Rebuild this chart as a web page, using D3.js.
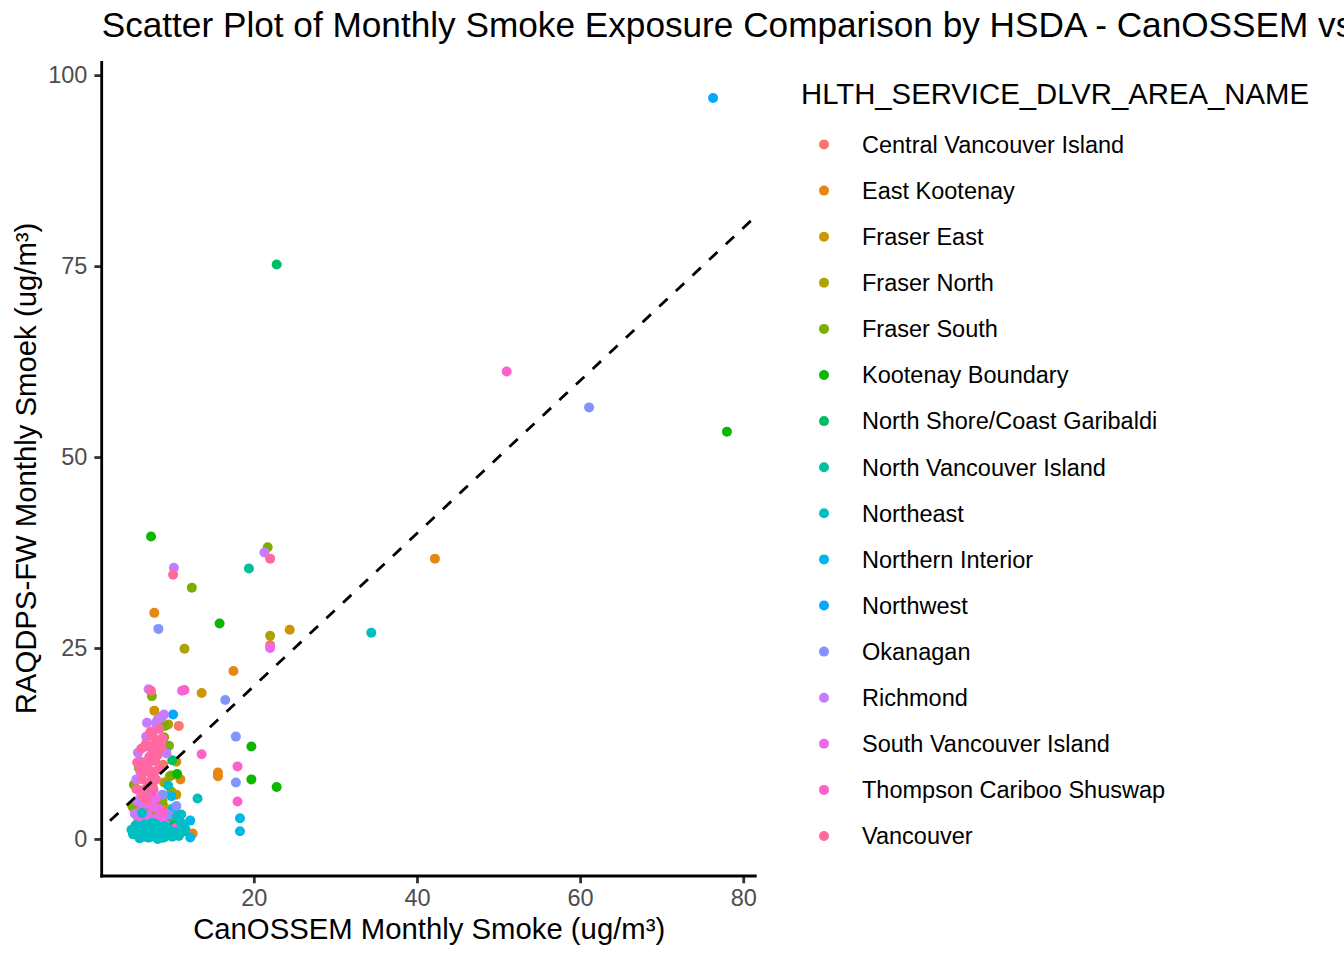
<!DOCTYPE html>
<html>
<head>
<meta charset="utf-8">
<script src="https://cdn.jsdelivr.net/npm/d3@7"></script>
<style>
  body { margin: 0; background: #fff; }
  svg { display: block; font-family: "Liberation Sans", Arial, Helvetica, sans-serif; }
</style>
</head>
<body>
<svg id="chart" width="1344" height="960"></svg>
<script>
// HSDA names in legend order, with ggplot's default hue colours
const hsdaNames = [
  'Central Vancouver Island', 'East Kootenay', 'Fraser East', 'Fraser North',
  'Fraser South', 'Kootenay Boundary', 'North Shore/Coast Garibaldi',
  'North Vancouver Island', 'Northeast', 'Northern Interior', 'Northwest',
  'Okanagan', 'Richmond', 'South Vancouver Island', 'Thompson Cariboo Shuswap',
  'Vancouver'
];
const hsdaColors = [
  '#F8766D', '#E68613', '#CD9600', '#ABA300', '#7CAE00', '#0CB702', '#00BE67',
  '#00C19A', '#00BFC4', '#00B8E7', '#00A9FF', '#8494FF', '#C77CFF', '#ED68ED',
  '#FF61CC', '#FF68A1'
];

// [CanOSSEM, RAQDPS-FW] monthly smoke (ug/m3)
const centralVancouverIsland = [[22.0, 25.4], [10.8, 14.8], [10.2, 2.6], [5.6, 0.9], [6.6, 1.6], [7.3, 0.5], [8.1, 1.2], [9.4, 2.1], [6.1, 3.4], [7.6, 6.9], [8.9, 9.7], [11.0, 0.8], [9.9, 0.4], [7.0, 4.3], [8.6, 0.2]];
const eastKootenay = [[42.2, 36.7], [7.8, 29.6], [17.5, 22.0], [15.6, 8.7], [15.6, 8.2], [11.0, 7.8], [8.5, 1.0], [9.2, 0.5], [7.0, 0.3], [10.4, 1.8], [8.1, 3.0], [6.8, 1.9], [12.5, 0.7]];
const fraserEast = [[24.4, 27.4], [13.6, 19.1], [7.8, 16.8], [10.5, 10.1], [10.5, 5.8], [8.0, 2.0], [6.5, 0.9], [9.0, 4.2], [7.2, 0.3], [9.6, 1.4], [5.8, 2.8]];
const fraserNorth = [[11.5, 24.9], [22.0, 26.6], [9.7, 8.2], [6.0, 5.2], [5.8, 2.0], [9.9, 6.2], [7.5, 0.9], [8.7, 0.3], [6.6, 2.6], [10.4, 3.3], [9.0, 7.4], [5.3, 4.0], [9.5, 15.0], [6.2, 3.0], [8.5, 4.6]];
const fraserSouth = [[21.7, 38.2], [12.4, 32.9], [7.5, 18.7], [9.1, 14.8], [9.0, 13.3], [5.1, 4.3], [5.3, 7.1], [6.5, 1.8], [8.2, 0.7], [7.3, 3.8], [9.9, 8.3], [9.6, 12.2], [5.9, 9.3], [10.3, 2.4], [6.0, 2.5], [8.8, 5.0]];
const kootenayBoundary = [[78.0, 53.3], [7.4, 39.6], [15.8, 28.2], [19.7, 12.1], [19.7, 7.8], [22.8, 6.8], [10.6, 8.5], [7.5, 0.8], [9.0, 1.5], [6.8, 0.3], [8.4, 2.4], [10.1, 0.6]];
const northShoreCoastGaribaldi = [[22.8, 75.2], [10.0, 10.3], [8.5, 2.8], [10.3, 1.9], [7.0, 1.3], [9.2, 0.6], [10.0, 1.6], [6.0, 0.4], [11.4, 1.0]];
const northVancouverIsland = [[19.4, 35.4], [9.2, 11.4], [6.2, 0.5], [8.0, 1.4], [10.6, 0.8], [7.4, 2.2], [9.0, 0.2], [11.2, 2.0]];
const northeast = [[34.4, 27.0], [13.1, 5.3], [11.1, 3.2], [9.5, 7.0], [10.6, 2.9], [11.1, 2.1], [6.3, 3.4], [7.5, 2.1], [5.2, 0.6], [5.8, 1.1], [6.3, 0.3], [6.8, 0.9], [7.2, 0.2], [7.6, 1.3], [8.0, 0.5], [8.4, 0.1], [8.8, 0.9], [9.2, 0.4], [9.6, 1.2], [10.0, 0.3], [5.5, 1.8], [6.6, 1.9], [7.9, 2.0], [9.0, 1.7], [10.4, 0.9], [6.0, 0.1], [7.4, 0.7], [8.6, 1.5], [11.6, 1.3], [10.8, 0.4], [5.0, 1.2]];
const northernInterior = [[18.3, 2.7], [18.3, 1.0], [12.2, 2.4], [12.2, 0.2], [11.2, 1.2], [9.9, 5.6], [10.1, 4.0], [6.0, 0.1], [7.5, 0.4], [8.8, 0.2], [9.5, 0.9], [5.4, 0.7], [10.7, 1.6], [8.2, 0.0]];
const northwest = [[76.3, 97.0], [10.1, 16.3], [8.4, 2.5], [7.0, 0.2], [8.3, 0.6], [6.1, 1.1], [10.0, 0.4], [9.3, 2.9]];
const okanagan = [[61.1, 56.5], [8.3, 27.5], [16.5, 18.2], [17.8, 13.4], [17.8, 7.4], [10.5, 4.3], [8.8, 5.8], [7.0, 9.1], [6.5, 1.5], [8.0, 0.8], [9.0, 1.9], [9.6, 3.2], [7.5, 5.5]];
const richmond = [[21.3, 37.5], [10.2, 35.5], [7.1, 19.6], [9.0, 16.3], [8.0, 15.2], [8.8, 16.1], [6.8, 13.4], [6.5, 12.0], [6.0, 10.2], [5.6, 7.8], [6.9, 15.2], [7.2, 10.8], [6.1, 8.8], [5.9, 6.4], [8.2, 15.6], [8.6, 15.9], [5.7, 5.0], [9.3, 11.2], [7.7, 14.1], [5.4, 3.3], [7.0, 2.1], [6.3, 4.5], [5.8, 11.3]];
const southVancouverIsland = [[11.2, 19.4], [22.0, 25.0], [6.5, 2.0], [7.0, 3.1], [7.6, 4.2], [8.2, 2.8], [6.9, 4.6], [7.8, 1.7], [8.5, 3.9], [6.2, 3.8], [7.4, 2.4], [9.4, 1.0], [8.0, 5.3], [10.3, 0.6], [7.2, 5.8], [8.8, 2.3], [6.0, 2.6]];
const thompsonCaribooShuswap = [[51.0, 61.2], [11.5, 19.5], [13.6, 11.1], [18.0, 9.5], [18.0, 4.9], [7.1, 0.9], [9.8, 0.5], [6.4, 1.6], [8.9, 3.4], [5.9, 0.3], [10.4, 1.4]];
const vancouver = [[22.0, 36.7], [10.1, 34.6], [7.4, 19.4], [8.4, 14.4], [8.8, 13.2], [7.5, 13.5], [8.0, 13.0], [7.9, 12.3], [6.8, 12.5], [7.6, 11.5], [7.2, 10.6], [6.6, 10.0], [7.9, 10.2], [7.0, 9.6], [6.5, 8.8], [7.4, 8.5], [6.3, 7.8], [7.1, 7.4], [6.8, 6.6], [6.1, 6.2], [7.7, 6.4], [6.4, 5.5], [8.3, 9.1], [8.7, 12.0], [6.9, 5.1], [8.0, 7.8], [5.7, 10.0], [5.6, 6.5], [7.3, 14.0], [8.2, 11.0], [6.2, 11.8], [7.8, 8.8], [6.0, 9.2], [7.3, 12.0]];

const seriesValues = [
  centralVancouverIsland, eastKootenay, fraserEast, fraserNorth, fraserSouth,
  kootenayBoundary, northShoreCoastGaribaldi, northVancouverIsland, northeast,
  northernInterior, northwest, okanagan, richmond, southVancouverIsland,
  thompsonCaribooShuswap, vancouver
];

const xTicks = [20, 40, 60, 80];
const yTicks = [0, 25, 50, 75, 100];

// panel box (ggplot theme_classic, 192 dpi)
const panel = { left: 101.7, right: 756.7, top: 61, bottom: 876 };

const points = [];
seriesValues.forEach((vals, i) => {
  vals.forEach(d => points.push({ x: d[0], y: d[1], group: i }));
});

// ggplot expands the data range by 5% each side
const xExt = d3.extent(points, d => d.x);
const yExt = d3.extent(points, d => d.y);
const xPad = (xExt[1] - xExt[0]) * 0.05;
const yPad = (yExt[1] - yExt[0]) * 0.05;

const x = d3.scaleLinear()
  .domain([xExt[0] - xPad, xExt[1] + xPad])
  .range([panel.left, panel.right]);
const y = d3.scaleLinear()
  .domain([yExt[0] - yPad, yExt[1] + yPad])
  .range([panel.bottom, panel.top]);

const svg = d3.select('#chart');

svg.append('defs').append('clipPath')
  .attr('id', 'panel-clip')
  .append('rect')
  .attr('x', panel.left)
  .attr('y', panel.top)
  .attr('width', panel.right - panel.left)
  .attr('height', panel.bottom - panel.top);

// points: Northeast drawn last, it sits on top of the low cluster
const drawOrder = d3.range(hsdaNames.length).filter(i => i !== 8).concat([8]);
const plotG = svg.append('g').attr('clip-path', 'url(#panel-clip)');
drawOrder.forEach(gi => {
  plotG.selectAll(null)
    .data(points.filter(p => p.group === gi))
    .join('circle')
    .attr('cx', d => x(d.x))
    .attr('cy', d => y(d.y))
    .attr('r', 5)
    .attr('fill', hsdaColors[gi]);
});

// 1:1 reference line
const x0 = x.domain()[0], x1 = x.domain()[1];
plotG.append('line')
  .attr('x1', x(x0))
  .attr('y1', y(x0))
  .attr('x2', x(x1))
  .attr('y2', y(x1))
  .attr('stroke', 'black')
  .attr('stroke-width', 2.8)
  .attr('stroke-dasharray', '11.4,11.4')
  .attr('stroke-dashoffset', 11.4);

// axes
const xAxis = svg.append('g')
  .attr('transform', `translate(0,${panel.bottom})`)
  .call(d3.axisBottom(x).tickValues(xTicks).tickSize(7.3).tickSizeOuter(0).tickPadding(6));
const yAxis = svg.append('g')
  .attr('transform', `translate(${panel.left},0)`)
  .call(d3.axisLeft(y).tickValues(yTicks).tickSize(7.3).tickSizeOuter(0).tickPadding(7));

[xAxis, yAxis].forEach(a => {
  a.select('.domain').remove();
  a.selectAll('.tick line').attr('stroke', '#333333').attr('stroke-width', 2.8);
  a.selectAll('.tick text')
    .attr('fill', '#4D4D4D')
    .style('font-size', '23.5px')
    .style('font-family', '"Liberation Sans", Arial, sans-serif');
});

// axis lines
svg.append('line')
  .attr('x1', panel.left - 1.4).attr('x2', panel.right)
  .attr('y1', panel.bottom).attr('y2', panel.bottom)
  .attr('stroke', 'black').attr('stroke-width', 2.8);
svg.append('line')
  .attr('x1', panel.left).attr('x2', panel.left)
  .attr('y1', panel.top).attr('y2', panel.bottom + 1.4)
  .attr('stroke', 'black').attr('stroke-width', 2.8);

// titles (the main title runs off the right edge, as in the original)
svg.append('text')
  .attr('x', panel.left)
  .attr('y', 36.7)
  .style('font-size', '35.2px')
  .text('Scatter Plot of Monthly Smoke Exposure Comparison by HSDA - CanOSSEM vs RAQDPS-FW');

svg.append('text')
  .attr('x', (panel.left + panel.right) / 2)
  .attr('y', 939)
  .attr('text-anchor', 'middle')
  .style('font-size', '29.3px')
  .text('CanOSSEM Monthly Smoke (ug/m³)');

svg.append('text')
  .attr('transform', `translate(36,${(panel.top + panel.bottom) / 2}) rotate(-90)`)
  .attr('text-anchor', 'middle')
  .style('font-size', '29.3px')
  .text('RAQDPS-FW Monthly Smoek (ug/m³)');

// legend
const legend = svg.append('g');
legend.append('text')
  .attr('x', 801)
  .attr('y', 104.3)
  .style('font-size', '29.3px')
  .text('HLTH_SERVICE_DLVR_AREA_NAME');

hsdaNames.forEach((name, i) => {
  const cy = 144.5 + i * 46.1;
  legend.append('circle')
    .attr('cx', 824)
    .attr('cy', cy)
    .attr('r', 5)
    .attr('fill', hsdaColors[i]);
  legend.append('text')
    .attr('x', 862)
    .attr('y', cy + 8.3)
    .style('font-size', '23.5px')
    .text(name);
});
</script>
</body>
</html>
